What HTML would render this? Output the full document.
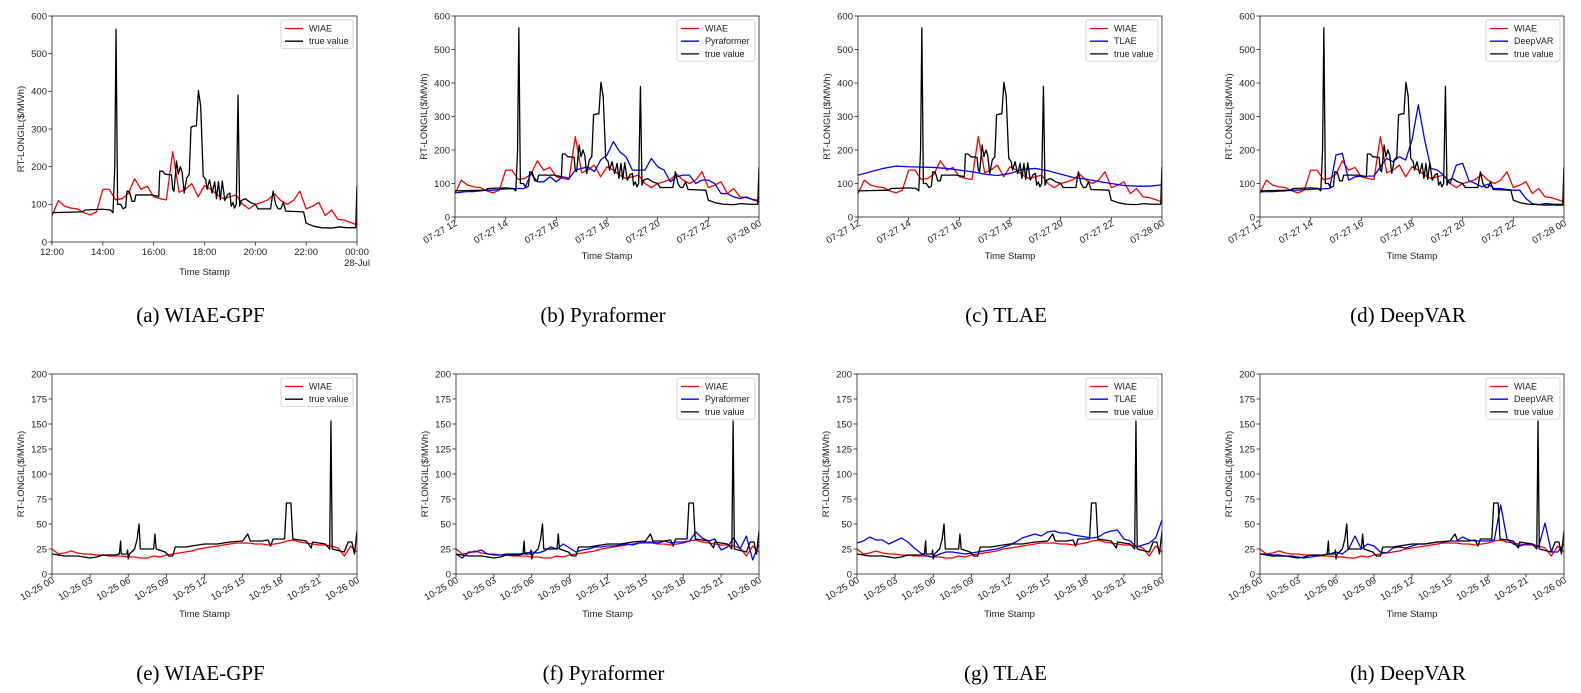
<!DOCTYPE html>
<html><head><meta charset="utf-8"><style>
body{margin:0;background:#fff;width:1581px;height:693px;overflow:hidden}
svg{display:block}
text{font-family:"Liberation Sans",sans-serif;fill:#222}
.cap{font-family:"Liberation Serif",serif;font-size:21px;fill:#000}
</style></head><body>
<svg id="fig" width="1581" height="693" viewBox="0 0 1581 693" xmlns="http://www.w3.org/2000/svg"></svg>
<script>
// ---- Row 1 data (hours after 12:00 on 07-27) ----
const trueT1 = [0,1.2,1.3,2.0,2.3,2.4,2.47,2.52,2.58,2.7,2.8,2.9,2.95,3.05,3.15,3.25,3.3,3.9,4.1,4.2,4.24,4.35,4.45,4.7,4.75,4.8,4.9,4.97,5.05,5.12,5.2,5.3,5.4,5.47,5.6,5.68,5.76,5.85,5.95,6.05,6.1,6.2,6.3,6.4,6.47,6.55,6.62,6.7,6.8,6.9,7.0,7.05,7.12,7.18,7.25,7.32,7.38,7.45,7.6,7.8,8.0,8.1,8.6,8.7,8.8,8.9,9.0,9.1,9.2,9.9,10.0,10.3,10.6,11.0,11.3,11.6,11.95,12.0];
const trueV1 = [78,80,85,87,85,78,200,565,100,100,88,92,135,133,108,108,125,125,122,120,188,188,180,178,140,135,215,180,200,185,130,170,180,305,308,308,402,360,175,165,140,165,130,160,115,160,112,162,110,125,130,95,105,90,100,390,95,110,115,105,100,88,88,135,100,88,88,105,82,80,50,42,38,37,40,38,38,150];
const wiae1 = [70,110,95,90,88,78,72,80,140,140,112,115,128,168,140,148,120,115,112,240,132,140,155,120,150,140,125,115,120,125,100,88,100,105,112,128,110,100,110,135,88,95,105,70,85,60,58,52,45];
const pyra1 = [72,74,76,76,78,80,80,82,84,84,85,85,130,105,105,120,105,120,115,140,145,150,135,170,185,225,195,180,140,140,140,175,150,140,105,120,125,125,100,110,110,100,70,70,60,55,60,52,50];
const tlae1 = [125,135,145,152,150,149,148,145,140,135,128,124,130,142,145,138,128,118,113,106,100,94,92,92,96];
const dvar1 = [75,76,76,77,78,80,80,82,82,84,84,85,185,190,110,120,122,122,122,150,175,165,180,170,230,335,230,145,140,125,100,155,160,108,100,90,98,85,85,82,80,80,55,40,37,35,36,35,35];
const ticks1 = ["07-27 12","07-27 14","07-27 16","07-27 18","07-27 20","07-27 22","07-28 00"];
const ticksA = ["12:00","14:00","16:00","18:00","20:00","22:00","00:00"];
const yTicks1 = [0,100,200,300,400,500,600];
// ---- Row 2 data (hours on 10-25) ----
const trueT2 = [0,1,2,3,3.5,4,5,5.3,5.4,5.45,5.9,5.95,6.0,6.1,6.5,6.7,6.85,6.95,7.5,8.0,8.1,8.2,8.9,9.2,9.5,9.7,10.5,11,12,13,14,15,15.4,15.6,16.5,17,17.2,17.4,18.3,18.45,18.8,18.95,19.5,20,20.4,20.5,21.5,21.85,21.95,22.05,23,23.3,23.6,23.8,24];
const trueV2 = [20,18,18,16,17,19,19,20,33,20,20,24,15,20,25,35,50,25,25,25,40,25,22,18,18,27,27,28,30,30,32,33,40,33,33,34,28,35,35,71,71,35,34,33,26,32,30,25,153,25,22,32,32,20,43];
const wiae2 = [25,20,21,23,21,20,20,19,19,18,18,18,17,17,16,16,18,17,19,20,21,22,23,25,26,27,28,29,30,31,31,31,30,30,29,30,31,33,34,32,31,30,29,29,28,26,18,28,22];
const pyra2 = [20,16,22,22,24,20,19,19,20,20,20,21,22,21,23,27,25,30,26,22,24,25,27,27,28,28,29,30,29,31,32,32,31,33,31,32,32,33,42,36,33,35,24,27,36,25,38,14,30];
const tlae2 = [31,33,37,34,34,30,33,36,32,26,21,18,17,20,22,22,21,20,21,22,23,24,25,27,29,32,36,38,40,38,42,43,41,41,39,38,37,36,37,41,43,44,35,33,27,29,31,36,54];
const dvar2 = [20,20,19,19,18,18,17,16,17,18,19,20,22,20,25,38,25,30,28,22,21,26,27,26,28,30,30,31,32,32,33,33,37,34,33,33,33,34,69,35,30,28,30,30,27,51,22,22,30];
const ticks2 = ["10-25 00","10-25 03","10-25 06","10-25 09","10-25 12","10-25 15","10-25 18","10-25 21","10-26 00"];
const yTicks2 = [0,25,50,75,100,125,150,175,200];

const NS="http://www.w3.org/2000/svg";
const svg=document.getElementById('fig');
function mk(tag,attrs,parent){const e=document.createElementNS(NS,tag);for(const k in attrs)e.setAttribute(k,attrs[k]);(parent||svg).appendChild(e);return e;}

function panel(cfg){
  const g=mk('g',{});
  
  
  const L=cfg.left,T=cfg.top,W=cfg.w,H=cfg.h;
  const xs=v=>L+v/cfg.xmax*W;
  const ys=v=>T+H-v/cfg.ymax*H;
  // y ticks
  cfg.yTicks.forEach(v=>{
    mk('line',{x1:L-3.5,x2:L,y1:ys(v),y2:ys(v),stroke:'#222','stroke-width':0.8},g);
    const t=mk('text',{x:L-5,y:ys(v)+3.3,'font-size':9.5,'text-anchor':'end'},g);t.textContent=v;
    
    
  });
  // x ticks
  const n=cfg.xTicks.length;
  cfg.xTicks.forEach((lab,i)=>{
    const x=L+i*W/(n-1);
    mk('line',{x1:x,x2:x,y1:T+H,y2:T+H+3.5,stroke:'#222','stroke-width':0.8},g);
    let t;
    if(cfg.flat){
      t=mk('text',{x:x,y:T+H+13,'font-size':9.5,'text-anchor':'middle'},g);t.textContent=lab;
      if(i==n-1){const t2=mk('text',{x:x,y:T+H+24,'font-size':9.5,'text-anchor':'middle'},g);t2.textContent='28-Jul';}
    } else {
      t=mk('text',{x:x+3,y:T+H+8,'font-size':9.5,'text-anchor':'end',transform:`rotate(-30 ${x+3} ${T+H+8})`},g);t.textContent=lab;
    }
    
    
  });
  // axis titles
  const yt=mk('text',{x:0,y:0,'font-size':9.5,'text-anchor':'middle',transform:`translate(${L-28} ${T+H/2}) rotate(-90)`},g);
  yt.textContent='RT-LONGIL($/MWh)';
  
  
  const xt=mk('text',{x:L+W/2,y:cfg.xTitleY,'font-size':9.5,'text-anchor':'middle'},g);
  xt.textContent='Time Stamp';
  
  
  // clip
  const cid='c'+cfg.name;
  const cp=mk('clipPath',{id:cid},g);mk('rect',{x:L,y:T,width:W,height:H},cp);
  const lg=mk('g',{'clip-path':`url(#${cid})`},g);
  function uniLine(arr,color,nm){
    const step=cfg.xmax/(arr.length-1);
    const d=arr.map((v,i)=>(i?'L':'M')+xs(i*step).toFixed(2)+' '+ys(v).toFixed(2)).join(' ');
    const p=mk('path',{d:d,fill:'none',stroke:color,'stroke-width':1.3,'stroke-linejoin':'round'},lg);
    
    
  }
  function xyLine(ts,vs,color,nm){
    const d=ts.map((t,i)=>(i?'L':'M')+xs(t).toFixed(2)+' '+ys(vs[i]).toFixed(2)).join(' ');
    const p=mk('path',{d:d,fill:'none',stroke:color,'stroke-width':1.3,'stroke-linejoin':'round'},lg);
    
    
  }
  uniLine(cfg.wiae,'#ff0000','wiae-line');
  if(cfg.other) uniLine(cfg.other,'#0000ff',cfg.otherName.toLowerCase()+'-line');
  xyLine(cfg.tt,cfg.tv,'#000000','true-value-line');
  mk('rect',{x:L,y:T,width:W,height:H,fill:'none',stroke:'#222','stroke-width':0.8},g);
  // legend
  const entries=[['WIAE','#ff0000']];
  if(cfg.other) entries.push([cfg.otherName,'#0000ff']);
  entries.push(['true value','#000000']);
  const lw=cfg.other?(cfg.otherName=='Pyraformer'?78:(cfg.otherName=='DeepVAR'?74:72)):72;
  const lh=entries.length*12.7+3;
  const lx=L+W-lw-4, ly=T+4;
  const leg=mk('g',{},g);
  
  
  mk('rect',{x:lx,y:ly,width:lw,height:lh,fill:'#fff',stroke:'#ccc','stroke-width':0.8,rx:2},leg);
  entries.forEach((e,i)=>{
    const yy=ly+8.5+i*12.7;
    const it=mk('g',{},leg);
    
    
    mk('line',{x1:lx+4,x2:lx+22,y1:yy,y2:yy,stroke:e[1],'stroke-width':1.3},it);
    const t=mk('text',{x:lx+28,y:yy+3,'font-size':9},it);t.textContent=e[0];
  });
  // caption
  const c=mk('text',{x:L+W/2-4,y:cfg.capY,'text-anchor':'middle',class:'cap'},g);
  c.textContent=cfg.cap;
  
  
}

const lefts=[52,455,858,1260];
panel({name:'panel-a',left:52,top:16,w:305,h:226,xmax:12,ymax:600,yTicks:yTicks1,xTicks:ticksA,flat:true,xTitleY:275,tt:trueT1,tv:trueV1,wiae:wiae1,cap:'(a) WIAE-GPF',capY:322});
panel({name:'panel-b',left:455,top:16,w:304,h:201,xmax:12,ymax:600,yTicks:yTicks1,xTicks:ticks1,xTitleY:259,tt:trueT1,tv:trueV1,wiae:wiae1,other:pyra1,otherName:'Pyraformer',cap:'(b) Pyraformer',capY:322});
panel({name:'panel-c',left:858,top:16,w:304,h:201,xmax:12,ymax:600,yTicks:yTicks1,xTicks:ticks1,xTitleY:259,tt:trueT1,tv:trueV1,wiae:wiae1,other:tlae1,otherName:'TLAE',cap:'(c) TLAE',capY:322});
panel({name:'panel-d',left:1260,top:16,w:304,h:201,xmax:12,ymax:600,yTicks:yTicks1,xTicks:ticks1,xTitleY:259,tt:trueT1,tv:trueV1,wiae:wiae1,other:dvar1,otherName:'DeepVAR',cap:'(d) DeepVAR',capY:322});
panel({name:'panel-e',left:52,top:374,w:305,h:200,xmax:24,ymax:200,yTicks:yTicks2,xTicks:ticks2,xTitleY:617,tt:trueT2,tv:trueV2,wiae:wiae2,cap:'(e) WIAE-GPF',capY:680});
panel({name:'panel-f',left:456,top:374,w:303,h:200,xmax:24,ymax:200,yTicks:yTicks2,xTicks:ticks2,xTitleY:617,tt:trueT2,tv:trueV2,wiae:wiae2,other:pyra2,otherName:'Pyraformer',cap:'(f) Pyraformer',capY:680});
panel({name:'panel-g',left:857,top:374,w:305,h:200,xmax:24,ymax:200,yTicks:yTicks2,xTicks:ticks2,xTitleY:617,tt:trueT2,tv:trueV2,wiae:wiae2,other:tlae2,otherName:'TLAE',cap:'(g) TLAE',capY:680});
panel({name:'panel-h',left:1260,top:374,w:304,h:200,xmax:24,ymax:200,yTicks:yTicks2,xTicks:ticks2,xTitleY:617,tt:trueT2,tv:trueV2,wiae:wiae2,other:dvar2,otherName:'DeepVAR',cap:'(h) DeepVAR',capY:680});
</script>
</body></html>
